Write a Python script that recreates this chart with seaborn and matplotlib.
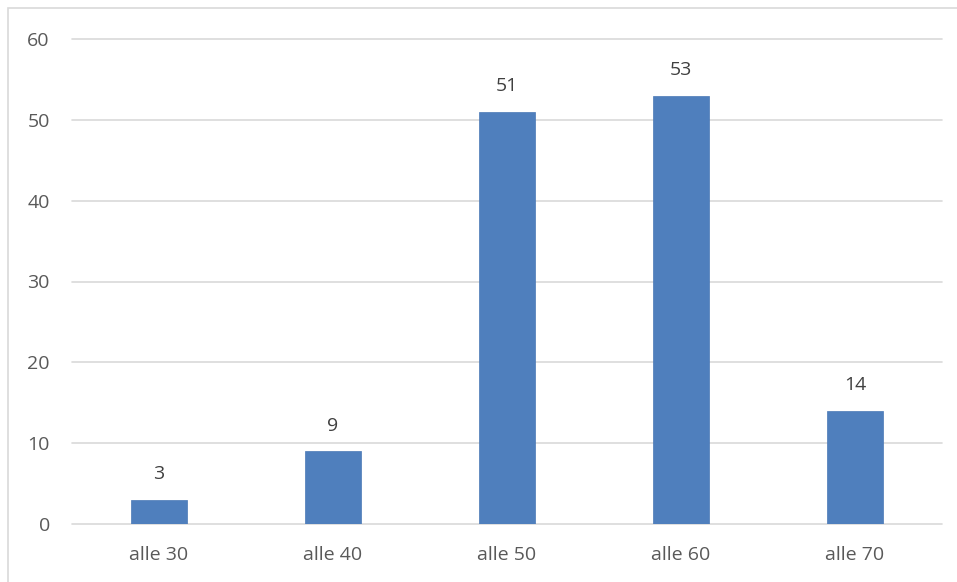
import matplotlib
matplotlib.use("Agg")
import matplotlib.pyplot as plt
import seaborn as sns
import pandas as pd
from matplotlib.patches import Rectangle

categories = ["alle 30", "alle 40", "alle 50", "alle 60", "alle 70"]
values = [3, 9, 51, 53, 14]
yticks = [0, 10, 20, 30, 40, 50, 60]

sns.set_style("white")
plt.rcParams['font.family'] = ['Open Sans', 'DejaVu Sans']

df = pd.DataFrame({"cat": categories, "val": values})

fig = plt.figure(figsize=(9.57, 5.82), dpi=100)
ax = fig.add_axes([72/957, 1-524/582, 870/957, 485/582])
sns.barplot(data=df, x="cat", y="val", ax=ax, color="#4f7fbd", width=0.32,
            saturation=1, edgecolor="#4a78b5", linewidth=0.5, zorder=3)

ax.set_ylim(0, 60)
ax.set_yticks(yticks)
ax.set_xlim(-0.5, len(categories) - 0.5)
ax.grid(axis="y", color="#d9d9d9", linewidth=1.2, zorder=0)
for gl in ax.get_ygridlines():
    gl.set_clip_on(False)
ax.set_axisbelow(True)
for s in ax.spines.values():
    s.set_visible(False)
ax.set_xlabel("")
ax.set_ylabel("")
ax.tick_params(axis="both", length=0, labelsize=14, labelcolor="#595959")
ax.tick_params(axis="y", pad=16)
ax.tick_params(axis="x", pad=16)

for i, v in enumerate(values):
    ax.annotate(str(v), (i, v), xytext=(0, 12), textcoords="offset points",
                ha="center", va="bottom", fontsize=14, color="#404040")

fig.patches.append(Rectangle((8/957, -0.1), 1.2, 1 - 8/582 + 0.1,
                             transform=fig.transFigure, fill=False,
                             edgecolor="#d9d9d9", linewidth=1.2))

fig.savefig("out.png", dpi=100)
